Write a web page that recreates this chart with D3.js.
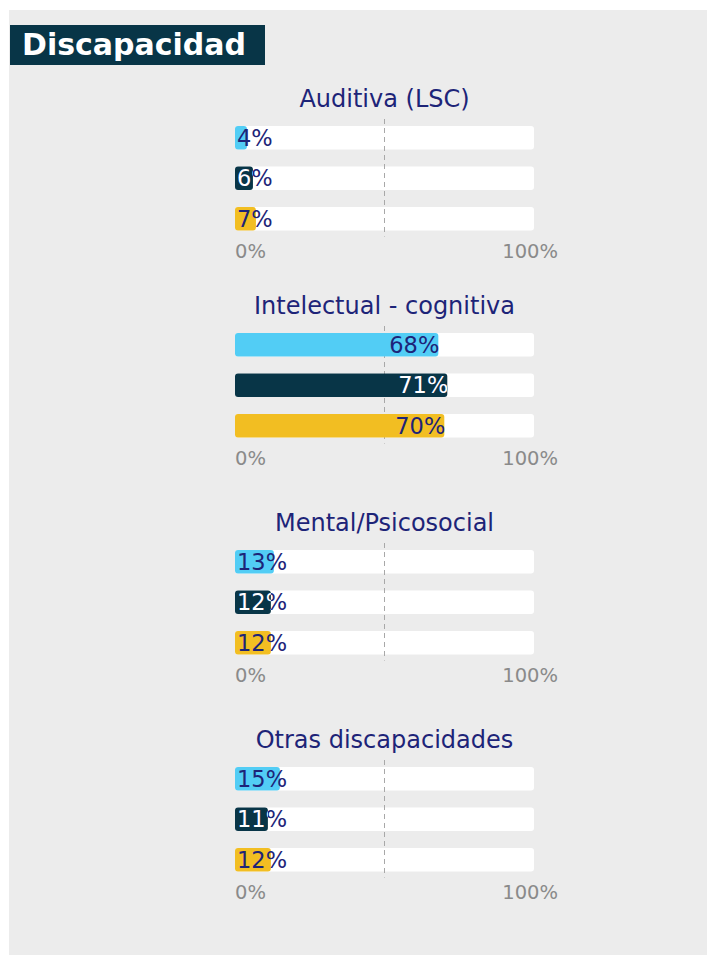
<!DOCTYPE html>
<html>
<head>
<meta charset="utf-8">
<script src="https://cdn.jsdelivr.net/npm/d3@7"></script>
<style>
  html, body { margin: 0; padding: 0; background: #fff; }
  svg { display: block; }
  text { font-family: "DejaVu Sans", sans-serif; }
</style>
</head>
<body>
<svg id="chart"></svg>
<script>
// ===============================
// DATA
// ===============================
const chartTitle = "Discapacidad";
const groups = ["Auditiva (LSC)", "Intelectual - cognitiva", "Mental/Psicosocial", "Otras discapacidades"];
const series = ["Serie 1", "Serie 2", "Serie 3"];
const values = [
  [4, 6, 7],
  [68, 71, 70],
  [13, 12, 12],
  [15, 11, 12]
];
const tickValues = [0, 100];
const tickLabels = ["0%", "100%"];

const colors = ["#52cdf5", "#083547", "#f2be22"];
const navy = "#1d2478";

// ===============================
// LAYOUT
// ===============================
const width = 707, height = 955;
const groupTops = [126, 333, 550, 767];

const svg = d3.select("#chart")
  .attr("width", width)
  .attr("height", height);

// panel background
svg.append("rect")
  .attr("x", 9).attr("y", 10)
  .attr("width", width - 9).attr("height", height - 10)
  .attr("fill", "#ececec");

// title box
svg.append("rect")
  .attr("x", 10).attr("y", 25)
  .attr("width", 255).attr("height", 40)
  .attr("fill", "#083547");

svg.append("text")
  .attr("x", 22).attr("y", 55)
  .attr("fill", "#fff")
  .style("font-size", "30px")
  .style("font-weight", "700")
  .text(chartTitle);

const x = d3.scaleLinear().domain([0, 100]).range([235, 534]);

const row = d3.scaleBand()
  .domain(d3.range(series.length))
  .range([0, 104.5])
  .paddingInner(0.42);

const defs = svg.append("defs");

groups.forEach((name, gi) => {
  const g = svg.append("g")
    .attr("transform", `translate(0,${groupTops[gi]})`);

  const blockBottom = row(series.length - 1) + row.bandwidth();

  // group title
  g.append("text")
    .attr("x", x(50))
    .attr("y", -19)
    .attr("text-anchor", "middle")
    .attr("fill", navy)
    .style("font-size", "24px")
    .text(name);

  // background tracks
  g.selectAll(".track")
    .data(series)
    .join("rect")
    .attr("class", "track")
    .attr("x", x(0))
    .attr("y", (d, i) => row(i))
    .attr("width", x(100) - x(0))
    .attr("height", row.bandwidth())
    .attr("rx", 3)
    .attr("fill", "#fff");

  // dashed midline
  g.append("line")
    .attr("x1", x(50)).attr("x2", x(50))
    .attr("y1", -7).attr("y2", blockBottom + 6)
    .attr("stroke", "#a8a8a8")
    .attr("stroke-width", 1)
    .attr("stroke-dasharray", "5,4");

  // bars
  g.selectAll(".bar")
    .data(values[gi])
    .join("rect")
    .attr("class", "bar")
    .attr("x", x(0))
    .attr("y", (d, i) => row(i))
    .attr("width", d => x(d) - x(0))
    .attr("height", row.bandwidth())
    .attr("rx", 3)
    .attr("fill", (d, i) => colors[i]);

  // value labels
  values[gi].forEach((v, i) => {
    const label = v + "%";
    const base = g.append("text")
      .attr("y", row(i) + row.bandwidth() / 2)
      .attr("dy", "0.36em")
      .attr("text-anchor", "end")
      .attr("fill", navy)
      .style("font-size", "22.5px")
      .text(label);
    const w = base.node().getComputedTextLength();
    const tx = Math.max(x(v) + 1, x(0) + w + 2);
    base.attr("x", tx);

    // white part of the label over the dark bar
    if (i === 1) {
      const clipId = `clip-${gi}-${i}`;
      defs.append("clipPath")
        .attr("id", clipId)
        .append("rect")
        .attr("x", x(0))
        .attr("y", groupTops[gi] + row(i))
        .attr("width", x(v) - x(0))
        .attr("height", row.bandwidth());
      svg.append("text")
        .attr("x", tx)
        .attr("y", groupTops[gi] + row(i) + row.bandwidth() / 2)
        .attr("dy", "0.36em")
        .attr("text-anchor", "end")
        .attr("fill", "#fff")
        .attr("clip-path", `url(#${clipId})`)
        .style("font-size", "22.5px")
        .text(label);
    }
  });

  // axis labels
  g.selectAll(".tick-label")
    .data(tickValues)
    .join("text")
    .attr("class", "tick-label")
    .attr("x", (d, i) => i === 0 ? x(d) : x(d) + 24)
    .attr("y", blockBottom + 27)
    .attr("text-anchor", (d, i) => i === 0 ? "start" : "end")
    .attr("fill", "#8a8a8a")
    .style("font-size", "19.5px")
    .text((d, i) => tickLabels[i]);
});
</script>
</body>
</html>
